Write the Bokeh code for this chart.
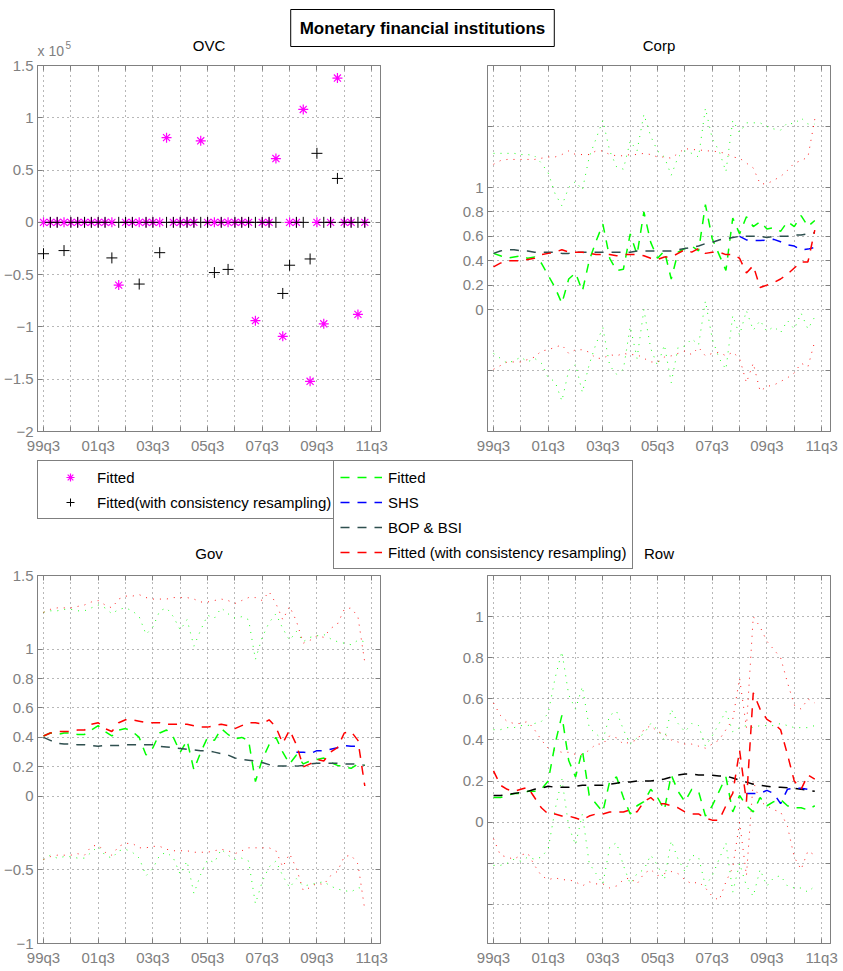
from bokeh.plotting import figure
from bokeh.models import Range1d, FixedTicker, LinearAxis, Label, Legend, LegendItem
from bokeh.layouts import column, row
from bokeh.embed import file_html
from bokeh.resources import INLINE

nan = float("nan")

# ---------------- data ----------------
quarters = list(range(48))  # 99q3 ... 11q2 (quarter index)
xtick_major = [0, 8, 16, 24, 32, 40, 48]
xtick_minor = [4, 12, 20, 28, 36, 44]
xtick_labels = ["99q3", "01q3", "03q3", "05q3", "07q3", "09q3", "11q3"]

# OVC (units, axis shown x 10^5)
ovc_fitted = [0, 0, 0, 0, 0, 0, 0, 0, 0, 0,
              0, -60000, 0, 0, 0, 0, 0, 0, 81000, 0,
              0, 0, 0, 78000, 0, 0, 0, 0, 0, 0,
              0, -94000, 0, 0, 61000, -109000, 0, 0, 108000, -152000,
              0, -97000, 0, 138000, 0, 0, -88000, 0]
ovc_resampled = [-30000, 0, 0, -27000, 0, 0, 0, 0, 0, 0,
                 -34000, 0, 0, 0, -59000, 0, 0, -29000, 0, 0,
                 0, 0, 0, 0, 0, -48000, 0, -45000, 0, 0,
                 0, 0, 0, 0, 0, -68000, -41000, 0, 0, -35000,
                 66000, 0, 0, 42000, 0, 0, 0, 0]

# Corp
corp_fitted = [0.46, 0.44, 0.42, 0.43, 0.44, 0.42, 0.43, 0.38, 0.28, 0.18,
               0.05, 0.25, 0.30, 0.15, 0.40, 0.56, 0.70, 0.42, 0.32, 0.33,
               0.62, 0.45, 0.80, 0.55, 0.42, 0.48, 0.25, 0.47, 0.50, 0.52,
               0.48, 0.86, 0.58, 0.45, 0.32, 0.75, 0.62, 0.76, 0.68, 0.72,
               0.66, 0.67, 0.64, 0.72, 0.68, 0.77, 0.68, 0.73]
corp_fit_hi = [1.28, 1.28, 1.28, 1.28, 1.27, 1.27, 1.26, 1.20, 1.12, 0.95,
               0.85, 1.00, 1.05, 0.98, 1.25, 1.40, 1.55, 1.30, 1.17, 1.15,
               1.38, 1.30, 1.60, 1.42, 1.30, 1.25, 1.10, 1.25, 1.30, 1.28,
               1.25, 1.65, 1.40, 1.30, 1.13, 1.55, 1.45, 1.53, 1.53, 1.53,
               1.50, 1.48, 1.47, 1.53, 1.52, 1.57, 1.52, 1.52]
corp_fit_lo = [-0.36, -0.40, -0.44, -0.42, -0.39, -0.43, -0.40, -0.44, -0.56, -0.59,
               -0.75, -0.50, -0.45, -0.68, -0.45, -0.28, -0.15, -0.46, -0.53, -0.49,
               -0.14, -0.40, 0.00, -0.32, -0.46, -0.29, -0.60, -0.31, -0.30, -0.24,
               -0.29, 0.07, -0.24, -0.40, -0.49, -0.05, -0.21, -0.01, -0.17, -0.09,
               -0.18, -0.14, -0.19, -0.09, -0.16, -0.03, -0.16, -0.06]
corp_resamp = [0.35, 0.38, 0.40, 0.40, 0.40, 0.41, 0.42, 0.45, 0.46, 0.47,
               0.49, 0.47, 0.47, 0.47, 0.46, 0.45, 0.45, 0.45, 0.44, 0.45,
               0.45, 0.45, 0.44, 0.42, 0.41, 0.43, 0.43, 0.46, 0.49, 0.47,
               0.50, 0.46, 0.47, 0.47, 0.45, 0.45, 0.42, 0.30, 0.36, 0.18,
               0.20, 0.22, 0.25, 0.29, 0.34, 0.39, 0.39, 0.65]
corp_res_hi = [1.19, 1.22, 1.23, 1.23, 1.23, 1.23, 1.23, 1.24, 1.25, 1.25,
               1.27, 1.30, 1.27, 1.27, 1.27, 1.30, 1.30, 1.27, 1.26, 1.26,
               1.27, 1.27, 1.28, 1.27, 1.25, 1.25, 1.24, 1.28, 1.32, 1.31,
               1.31, 1.30, 1.30, 1.29, 1.28, 1.25, 1.24, 1.20, 1.16, 1.03,
               1.03, 1.06, 1.09, 1.14, 1.20, 1.22, 1.25, 1.56]
corp_res_lo = [-0.49, -0.46, -0.43, -0.43, -0.43, -0.41, -0.39, -0.34, -0.33, -0.31,
               -0.29, -0.36, -0.33, -0.33, -0.35, -0.40, -0.40, -0.37, -0.38, -0.36,
               -0.37, -0.37, -0.40, -0.43, -0.43, -0.39, -0.38, -0.36, -0.34, -0.37,
               -0.31, -0.38, -0.36, -0.35, -0.38, -0.35, -0.40, -0.60, -0.44, -0.67,
               -0.63, -0.62, -0.59, -0.56, -0.52, -0.44, -0.47, -0.26]
corp_bop = [0.46, 0.48, 0.49, 0.49, 0.48, 0.48, 0.47, 0.47, 0.47, 0.47,
            0.46, 0.46, 0.47, 0.47, 0.47, 0.47, 0.47, 0.47, 0.47, 0.47,
            0.47, 0.48, 0.48, 0.48, 0.48, 0.48, 0.48, 0.49, 0.50, 0.51,
            0.52, 0.54, 0.55, 0.57, 0.58, 0.59, 0.60, 0.60, 0.60, 0.60,
            0.59, 0.60, 0.60, 0.60, 0.61, 0.61, 0.62, 0.63]
corp_shs = [nan] * 36 + [0.60, 0.57, 0.565, 0.565, 0.57, 0.575, 0.555, 0.53, 0.52, 0.49, 0.495, 0.51]

# Gov
gov_fitted = [0.41, 0.43, 0.42, 0.43, 0.43, 0.42, 0.42, 0.45, 0.48, 0.44,
              0.41, 0.45, 0.46, 0.44, 0.40, 0.28, 0.33, 0.43, 0.45, 0.40,
              0.30, 0.38, 0.18, 0.30, 0.40, 0.38, 0.46, 0.42, 0.39, 0.40,
              0.38, 0.10, 0.25, 0.35, 0.40, 0.30, 0.22, 0.28, 0.22, 0.24,
              0.25, 0.26, 0.23, 0.21, 0.20, 0.19, 0.22, 0.21]
gov_fit_hi = [1.25, 1.26, 1.26, 1.27, 1.27, 1.26, 1.26, 1.28, 1.30, 1.28,
              1.24, 1.27, 1.28, 1.26, 1.22, 1.10, 1.15, 1.26, 1.28, 1.22,
              1.13, 1.20, 1.02, 1.13, 1.23, 1.21, 1.28, 1.24, 1.21, 1.22,
              1.20, 0.93, 1.08, 1.18, 1.24, 1.14, 1.06, 1.12, 1.05, 1.08,
              1.09, 1.10, 1.07, 1.05, 1.04, 1.03, 1.06, 1.05]
gov_fit_lo = [-0.43, -0.40, -0.42, -0.41, -0.41, -0.42, -0.42, -0.38, -0.34, -0.40,
              -0.42, -0.37, -0.36, -0.38, -0.42, -0.54, -0.49, -0.40, -0.38, -0.42,
              -0.53, -0.44, -0.66, -0.53, -0.43, -0.45, -0.36, -0.40, -0.43, -0.42,
              -0.44, -0.73, -0.58, -0.48, -0.44, -0.54, -0.62, -0.56, -0.61, -0.60,
              -0.59, -0.58, -0.61, -0.63, -0.64, -0.65, -0.62, -0.63]
gov_resamp = [0.41, 0.43, 0.44, 0.44, 0.44, 0.45, 0.45, 0.49, 0.50, 0.46,
              0.44, 0.50, 0.52, 0.52, 0.51, 0.50, 0.50, 0.50, 0.49, 0.49,
              0.49, 0.49, 0.48, 0.47, 0.47, 0.48, 0.49, 0.48, 0.46, 0.48,
              0.50, 0.50, 0.49, 0.52, 0.47, 0.36, 0.45, 0.35, 0.20, 0.22,
              0.25, 0.24, 0.30, 0.33, 0.43, 0.44, 0.38, 0.07]
gov_res_hi = [1.25, 1.27, 1.28, 1.28, 1.28, 1.29, 1.30, 1.32, 1.33, 1.30,
              1.28, 1.34, 1.36, 1.36, 1.37, 1.35, 1.34, 1.34, 1.34, 1.35,
              1.35, 1.35, 1.34, 1.32, 1.32, 1.33, 1.34, 1.33, 1.31, 1.33,
              1.35, 1.35, 1.33, 1.39, 1.31, 1.20, 1.29, 1.19, 1.04, 1.06,
              1.09, 1.08, 1.14, 1.17, 1.27, 1.28, 1.22, 0.91]
gov_res_lo = [-0.43, -0.41, -0.40, -0.40, -0.40, -0.39, -0.40, -0.34, -0.33, -0.38,
              -0.40, -0.34, -0.32, -0.32, -0.35, -0.35, -0.34, -0.34, -0.36, -0.37,
              -0.37, -0.37, -0.38, -0.38, -0.38, -0.37, -0.36, -0.37, -0.39, -0.37,
              -0.35, -0.35, -0.35, -0.35, -0.37, -0.48, -0.39, -0.49, -0.64, -0.62,
              -0.59, -0.60, -0.54, -0.51, -0.41, -0.40, -0.46, -0.77]
gov_bop = [0.40, 0.38, 0.36, 0.355, 0.355, 0.35, 0.35, 0.345, 0.34, 0.345,
           0.345, 0.345, 0.35, 0.35, 0.35, 0.35, 0.35, 0.34, 0.335, 0.33,
           0.325, 0.32, 0.315, 0.31, 0.31, 0.30, 0.29, 0.28, 0.26, 0.25,
           0.245, 0.24, 0.23, 0.215, 0.205, 0.205, 0.205, 0.205, 0.21, 0.22,
           0.225, 0.225, 0.225, 0.225, 0.22, 0.22, 0.22, 0.21]
gov_shs = [nan] * 37 + [0.30, 0.30, 0.29, 0.31, 0.31, 0.32, 0.33, 0.345, 0.34, 0.34, nan]

# Row
row_fitted = [0.12, 0.12, 0.13, 0.14, 0.14, 0.15, 0.15, 0.16, 0.20, 0.38,
              0.52, 0.30, 0.22, 0.35, 0.13, 0.09, 0.05, 0.20, 0.22, 0.12,
              0.04, 0.08, 0.10, 0.16, 0.12, 0.06, 0.23, 0.15, 0.10, 0.16,
              0.15, 0.03, 0.08, 0.15, 0.22, 0.05, 0.13, 0.08, 0.05, 0.12,
              0.08, 0.10, 0.11, 0.08, 0.07, 0.07, 0.06, 0.08]
row_fit_hi = [0.45, 0.45, 0.46, 0.46, 0.47, 0.47, 0.48, 0.49, 0.53, 0.70,
              0.83, 0.62, 0.55, 0.66, 0.46, 0.43, 0.40, 0.52, 0.54, 0.45,
              0.38, 0.41, 0.43, 0.48, 0.45, 0.40, 0.55, 0.48, 0.44, 0.48,
              0.47, 0.37, 0.42, 0.48, 0.54, 0.44, 0.46, 0.47, 0.46, 0.47,
              0.47, 0.47, 0.48, 0.47, 0.46, 0.46, 0.46, 0.47]
row_fit_lo = [-0.21, -0.21, -0.20, -0.18, -0.19, -0.17, -0.18, -0.17, -0.13, 0.06,
              0.21, -0.02, -0.11, 0.04, -0.20, -0.25, -0.30, -0.12, -0.10, -0.21,
              -0.30, -0.25, -0.23, -0.16, -0.21, -0.28, -0.09, -0.18, -0.24, -0.16,
              -0.17, -0.31, -0.26, -0.18, -0.10, -0.34, -0.20, -0.31, -0.36, -0.23,
              -0.31, -0.27, -0.26, -0.31, -0.32, -0.32, -0.34, -0.31]
row_resamp = [0.25, 0.18, 0.16, 0.15, 0.16, 0.17, 0.12, 0.07, 0.04, 0.04,
              0.03, 0.03, 0.02, 0.01, 0.03, 0.04, 0.04, 0.05, 0.05, 0.05,
              0.06, 0.05, 0.10, 0.12, 0.09, 0.09, 0.08, 0.07, 0.05, 0.04,
              0.04, 0.02, 0.01, 0.01, 0.08, 0.14, 0.35, 0.10, 0.63, 0.55,
              0.50, 0.48, 0.45, 0.33, 0.20, 0.16, 0.23, 0.21]
row_res_hi = [0.58, 0.52, 0.49, 0.48, 0.48, 0.49, 0.45, 0.40, 0.36, 0.35,
              0.34, 0.34, 0.33, 0.33, 0.35, 0.38, 0.38, 0.42, 0.41, 0.38,
              0.39, 0.40, 0.45, 0.47, 0.44, 0.43, 0.40, 0.39, 0.38, 0.38,
              0.37, 0.36, 0.38, 0.40, 0.45, 0.50, 0.70, 0.46, 1.00, 0.95,
              0.88, 0.84, 0.80, 0.68, 0.57, 0.55, 0.60, 0.58]
row_res_lo = [-0.08, -0.16, -0.17, -0.18, -0.16, -0.15, -0.21, -0.26, -0.28, -0.27,
              -0.28, -0.28, -0.29, -0.31, -0.29, -0.30, -0.30, -0.32, -0.31, -0.28,
              -0.27, -0.30, -0.25, -0.23, -0.26, -0.25, -0.24, -0.25, -0.28, -0.30,
              -0.29, -0.32, -0.36, -0.38, -0.29, -0.22, 0.00, -0.26, 0.20, 0.10,
              0.08, 0.06, 0.05, -0.02, -0.17, -0.23, -0.14, -0.16]
row_bop = [0.13, 0.13, 0.135, 0.14, 0.145, 0.15, 0.16, 0.165, 0.175, 0.17,
           0.17, 0.17, 0.175, 0.18, 0.18, 0.18, 0.18, 0.185, 0.19, 0.195,
           0.195, 0.20, 0.20, 0.20, 0.205, 0.21, 0.22, 0.23, 0.235, 0.235,
           0.23, 0.23, 0.228, 0.225, 0.225, 0.215, 0.205, 0.195, 0.185, 0.18,
           0.175, 0.17, 0.17, 0.168, 0.165, 0.16, 0.155, 0.15]
row_shs = [nan] * 37 + [0.14, 0.14, 0.14, 0.155, 0.14, 0.09, 0.16, 0.165, 0.165, 0.16, 0.15]

# y ticks per panel (major = labelled, minor = unlabelled grid lines)
ovc_yticks = [-200000, -150000, -100000, -50000, 0, 50000, 100000, 150000]
ovc_ylabels = ["\u22122", "\u22121.5", "\u22121", "\u22120.5", "0", "0.5", "1", "1.5"]
corp_yticks = [0, 0.2, 0.4, 0.6, 0.8, 1]
corp_yminor = [-0.5, 1.5]
gov_yticks = [-1, -0.5, 0, 0.2, 0.4, 0.6, 0.8, 1, 1.5]
gov_ylabels = ["\u22121", "\u22120.5", "0", "0.2", "0.4", "0.6", "0.8", "1", "1.5"]
row_yticks = [0, 0.2, 0.4, 0.6, 0.8, 1]
row_yminor = [-0.4, -0.2]

# ---------------- style ----------------
FONT = "Liberation Sans"
AXIS = "#808080"
GREEN, RED, BLUE, MAGENTA = "#00ff00", "#ff0000", "#0000ff", "#ff00ff"
BOP_DARK = "#2f4f4f"
DASH = "9 8"
DOT = "1 6"
GRID_DASH = "1 4"


def style_axis(ax, standoff):
    ax.major_tick_in = 5
    ax.major_tick_out = 0
    ax.minor_tick_in = 5
    ax.minor_tick_out = 0
    ax.axis_line_color = AXIS
    ax.major_tick_line_color = AXIS
    ax.minor_tick_line_color = AXIS
    ax.major_label_text_color = AXIS
    ax.major_label_text_font = FONT
    ax.major_label_text_font_size = "15px"
    ax.major_label_standoff = standoff


def panel(width, height, yr, yticks, ylabels, yminor, left, right, top, bottom, transparent=False):
    p = figure(width=width, height=height, x_range=Range1d(-0.88, 49.3), y_range=Range1d(*yr),
               output_backend="svg", toolbar_location=None,
               min_border_left=left, min_border_right=right,
               min_border_top=top, min_border_bottom=bottom)
    p.outline_line_color = AXIS
    p.outline_line_width = 1
    p.background_fill_color = "white"
    p.border_fill_color = None if transparent else "white"
    xt = FixedTicker(ticks=xtick_major, minor_ticks=xtick_minor)
    yt = FixedTicker(ticks=yticks, minor_ticks=yminor)
    xa, ya = p.xaxis[0], p.yaxis[0]
    xa.ticker = xt
    ya.ticker = yt
    xa.major_label_overrides = {t: l for t, l in zip(xtick_major, xtick_labels)}
    if ylabels is not None:
        ya.major_label_overrides = {t: l for t, l in zip(yticks, ylabels)}
    style_axis(xa, 5)
    style_axis(ya, 4)
    for loc, tk in (("above", xt), ("right", yt)):
        ax = LinearAxis(ticker=tk)
        style_axis(ax, 0)
        ax.major_label_text_color = None
        ax.major_label_text_font_size = "1px"
        p.add_layout(ax, loc)
    p.xgrid.ticker = xt
    p.ygrid.ticker = yt
    for g in (p.xgrid[0], p.ygrid[0]):
        g.grid_line_color = "#707070"
        g.grid_line_dash = GRID_DASH
        g.grid_line_width = 1
        g.minor_grid_line_color = "#707070"
        g.minor_grid_line_dash = GRID_DASH
        g.minor_grid_line_width = 1
    return p


def draw_series(p, fit, fit_hi, fit_lo, res, res_hi, res_lo, bop, shs, bop_color):
    for band, col in ((fit_hi, GREEN), (fit_lo, GREEN), (res_hi, RED), (res_lo, RED)):
        p.line(quarters, band, line_color=col, line_dash=DOT, line_width=1, line_alpha=0.9)
    p.line(quarters, fit, line_color=GREEN, line_dash=DASH, line_width=1.5)
    p.line(quarters, bop, line_color=bop_color, line_dash=DASH, line_width=1.5)
    p.line(quarters, shs, line_color=BLUE, line_dash=DASH, line_width=1.5)
    p.line(quarters, res, line_color=RED, line_dash=DASH, line_width=1.5)


# ---------------- top band (title box, panel titles) ----------------
TOP_H = 58
top_band = figure(width=843, height=TOP_H, x_range=Range1d(0, 843), y_range=Range1d(0, TOP_H),
                  output_backend="svg", toolbar_location=None, min_border=0,
                  x_axis_location=None, y_axis_location=None, outline_line_color=None)
top_band.grid.visible = False
top_band.add_layout(Label(x=422, y=TOP_H - 27.5, text="Monetary financial institutions",
                          text_align="center", text_baseline="middle", text_font=FONT,
                          text_font_size="17px", text_font_style="bold", text_color="black",
                          border_line_color="black", border_line_width=1,
                          background_fill_color="white", padding=9))
for xc, t in ((208.5, "OVC"), (658.5, "Corp")):
    top_band.add_layout(Label(x=xc, y=TOP_H - 45, text=t, text_align="center",
                              text_baseline="middle", text_font=FONT, text_font_size="15px",
                              text_color="black"))
top_band.add_layout(Label(x=37, y=TOP_H - 50, text="x 10", text_align="left", text_baseline="middle",
                          text_font=FONT, text_font_size="14px", text_color=AXIS))
top_band.add_layout(Label(x=65, y=TOP_H - 44, text="5", text_align="left", text_baseline="middle",
                          text_font=FONT, text_font_size="10px", text_color=AXIS))

# ---------------- middle row ----------------
MID_H = 398
ovc = panel(435, MID_H, (-200000, 150000), ovc_yticks, ovc_ylabels, [], 37, 55, 7, MID_H - 7 - 367)
ovc.scatter(quarters, ovc_fitted, marker="asterisk", size=10, line_color=MAGENTA, line_width=1.2)
ovc.scatter(quarters, ovc_resampled, marker="cross", size=11, line_color="black", line_width=1)

corp = panel(408, MID_H, (-1, 2), corp_yticks, None, corp_yminor, 52, 13, 7, MID_H - 7 - 367)
draw_series(corp, corp_fitted, corp_fit_hi, corp_fit_lo, corp_resamp, corp_res_hi, corp_res_lo,
            corp_bop, corp_shs, BOP_DARK)

# ---------------- legend band ----------------
LEG_H = 120          # 456 .. 576; bottom row overlaps it by OVERLAP px (transparent top margin)
OVERLAP = 14
leg_band = figure(width=843, height=LEG_H, x_range=Range1d(0, 843), y_range=Range1d(0, LEG_H),
                  output_backend="svg", toolbar_location=None, min_border=0,
                  x_axis_location=None, y_axis_location=None, outline_line_color=None)
leg_band.grid.visible = False
# legend-only renderers, their points lie outside the visible range
off = [-100, -90]
r_mag = leg_band.scatter(x=off, y=off, marker="asterisk", size=10, line_color=MAGENTA, line_width=1.2)
r_blk = leg_band.scatter(x=off, y=off, marker="cross", size=11, line_color="black", line_width=1)
r_g = leg_band.line(x=off, y=off, line_color=GREEN, line_dash=DASH, line_width=1.5)
r_b = leg_band.line(x=off, y=off, line_color=BLUE, line_dash=DASH, line_width=1.5)
r_k = leg_band.line(x=off, y=off, line_color=BOP_DARK, line_dash=DASH, line_width=1.5)
r_r = leg_band.line(x=off, y=off, line_color=RED, line_dash=DASH, line_width=1.5)

common = dict(orientation="vertical", border_line_color="black", border_line_width=1,
              background_fill_color="white", background_fill_alpha=1.0,
              label_text_font=FONT, label_text_font_size="15px", label_text_color="black",
              glyph_height=20, label_height=20, spacing=5, padding=6, margin=0)
LEG_TOP = 462 - 456
leg1 = Legend(items=[LegendItem(label="Fitted", renderers=[r_mag]),
                     LegendItem(label="Fitted(with consistency resampling)", renderers=[r_blk])],
              location=(37, LEG_H - LEG_TOP - 57), glyph_width=52, label_standoff=1, **common)
leg2 = Legend(items=[LegendItem(label="Fitted", renderers=[r_g]),
                     LegendItem(label="SHS", renderers=[r_b]),
                     LegendItem(label="BOP & BSI", renderers=[r_k]),
                     LegendItem(label="Fitted (with consistency resampling)", renderers=[r_r])],
              location=(333, LEG_H - LEG_TOP - 107), glyph_width=42, label_standoff=6, **common)
leg_band.add_layout(leg1)
leg_band.add_layout(leg2)
for xc, t in ((208.5, "Gov"), (658.5, "Row")):
    leg_band.add_layout(Label(x=xc, y=LEG_H - (553 - 456), text=t, text_align="center",
                              text_baseline="middle", text_font=FONT, text_font_size="15px",
                              text_color="black"))

# ---------------- bottom row ----------------
BOT_H = 971 - TOP_H - MID_H - LEG_H + OVERLAP   # starts at 562
BOT_TOP = 575 - (TOP_H + MID_H + LEG_H - OVERLAP)
gov = panel(435, BOT_H, (-1, 1.5), gov_yticks, gov_ylabels, [], 37, 55, BOT_TOP,
            BOT_H - BOT_TOP - 368, transparent=True)
draw_series(gov, gov_fitted, gov_fit_hi, gov_fit_lo, gov_resamp, gov_res_hi, gov_res_lo,
            gov_bop, gov_shs, BOP_DARK)

rowp = panel(408, BOT_H, (-0.59, 1.2), row_yticks, None, row_yminor, 52, 13, BOT_TOP,
             BOT_H - BOT_TOP - 368, transparent=True)
draw_series(rowp, row_fitted, row_fit_hi, row_fit_lo, row_resamp, row_res_hi, row_res_lo,
            row_bop, row_shs, "black")

bottom_row = row(gov, rowp, margin=(-OVERLAP, 0, 0, 0))
layout = column(top_band, row(ovc, corp), leg_band, bottom_row)

with open("out.html", "w") as f:
    f.write(file_html(layout, INLINE))
